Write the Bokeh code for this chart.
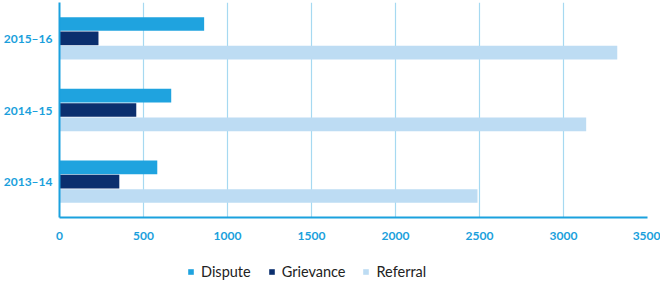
from bokeh.plotting import figure
from bokeh.models import ColumnDataSource, FactorRange, Range1d, Legend, LegendItem, FixedTicker
from bokeh.layouts import column
from bokeh.transform import dodge
from bokeh.embed import file_html
from bokeh.resources import INLINE

years = ["2013–14", "2014–15", "2015–16"]
dispute = [582, 665, 861]
grievance = [356, 457, 232]
referral = [2488, 3135, 3320]
x_ticks = [0, 500, 1000, 1500, 2000, 2500, 3000, 3500]
series_names = ["Dispute", "Grievance", "Referral"]
series_colors = ["#1fa3df", "#0b2f6e", "#bddcf3"]

src = ColumnDataSource(dict(year=years, dispute=dispute, grievance=grievance, referral=referral))

p = figure(width=660, height=250, y_range=FactorRange(*years, range_padding=0),
           x_range=Range1d(0, 3500), output_backend="svg", toolbar_location=None,
           min_border_left=58, min_border_right=13, min_border_top=2, min_border_bottom=33)
p.outline_line_color = None

bh = 0.19
for col, off, c in zip(["dispute", "grievance", "referral"], [0.2, 0.0, -0.2], series_colors):
    p.hbar(y=dodge("year", off, range=p.y_range), right=col, left=0, height=bh,
           source=src, color=c, line_color=None)

p.xaxis.ticker = FixedTicker(ticks=x_ticks)
p.xgrid.ticker = FixedTicker(ticks=x_ticks)
p.xgrid.grid_line_color = "#a6d9f1"
p.xgrid.grid_line_width = 1.2
p.ygrid.grid_line_color = None

for ax in (p.xaxis, p.yaxis):
    ax.axis_line_color = "#1ba1de"
    ax.axis_line_width = 2
    ax.major_tick_line_color = None
    ax.minor_tick_line_color = None
    ax.major_label_text_color = "#1a9fdc"
    ax.major_label_text_font = "Lato"
    ax.major_label_text_font_style = "bold"

p.xaxis.major_label_text_font_size = "12px"
p.xaxis.major_label_standoff = 8
p.yaxis.major_label_text_font_size = "12px"
p.yaxis.major_label_standoff = 1

# legend strip
p2 = figure(width=660, height=31, x_range=Range1d(0, 1), y_range=Range1d(0, 1),
            output_backend="svg", toolbar_location=None,
            min_border_left=0, min_border_right=0, min_border_top=0, min_border_bottom=0)
p2.axis.visible = False
p2.grid.visible = False
p2.outline_line_color = None
items = []
for name, c in zip(series_names, series_colors):
    r = p2.hbar(y=[-5], right=[-4], left=[-5], height=0.1, color=c, line_color=None)
    items.append(LegendItem(label=name, renderers=[r]))
legend = Legend(items=items, orientation="horizontal", location=(128, 1),
                glyph_width=7, glyph_height=7, label_text_font="Lato",
                label_text_font_size="14.5px", label_text_color="#222222",
                border_line_color=None, background_fill_alpha=0,
                spacing=17, padding=0, margin=0, label_standoff=7, label_height=14)
p2.add_layout(legend, "center")

open("out.html", "w").write(file_html(column(p, p2, spacing=0), INLINE))
